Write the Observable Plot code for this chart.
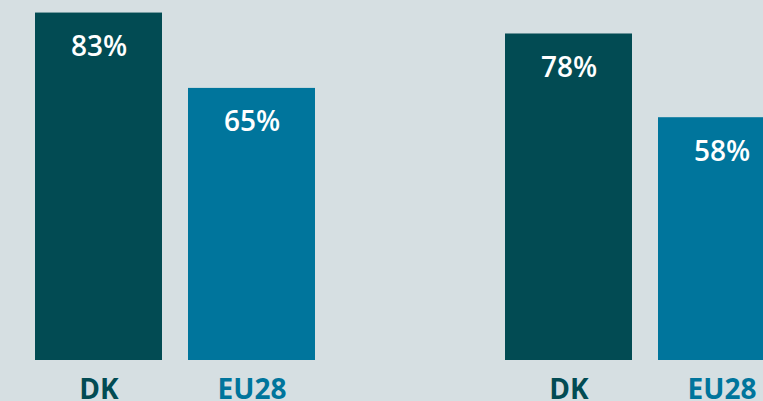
<!DOCTYPE html>
<html>
<head>
<meta charset="utf-8">
<script src="https://cdn.jsdelivr.net/npm/d3@7"></script>
<script src="https://cdn.jsdelivr.net/npm/@observablehq/plot@0.6"></script>
<style>
  html, body { margin: 0; padding: 0; background: #d6dfe2; overflow: hidden; }
</style>
</head>
<body>
<div id="chart"></div>
<script>
const groups = ["Gruppe 1", "Gruppe 2"];
const countries = ["DK", "EU28"];
const group1Values = [83, 65];
const group2Values = [78, 58];

const data = [];
countries.forEach((c, i) => data.push({group: groups[0], country: c, value: group1Values[i]}));
countries.forEach((c, i) => data.push({group: groups[1], country: c, value: group2Values[i]}));

const chart = Plot.plot({
  width: 763,
  height: 401,
  marginTop: 0,
  marginBottom: 41,
  marginLeft: 0,
  marginRight: 0,
  style: {background: "#d6dfe2", fontFamily: "'Open Sans', sans-serif", overflow: "hidden"},
  fx: {domain: groups, range: [35, 785], paddingInner: 190 / 470, paddingOuter: 0, axis: null, label: null},
  x: {domain: countries, paddingInner: 26 / 153, paddingOuter: 0, axis: null, label: null},
  y: {domain: [0, 86], axis: null},
  color: {domain: countries, range: ["#024b53", "#00759c"]},
  marks: [
    Plot.barY(data, {fx: "group", x: "country", y: "value", fill: "country"}),
    Plot.text(data, {fx: "group", x: "country", y: "value", text: d => d.value + "%", dy: 34,
      fill: "white", fontSize: 28, fontWeight: 600}),
    Plot.text(data, {fx: "group", x: "country", y: 0, text: "country", fill: "country",
      dy: 19, lineAnchor: "top", fontSize: 28, fontWeight: 700})
  ]
});
document.getElementById("chart").appendChild(chart);
</script>
</body>
</html>
